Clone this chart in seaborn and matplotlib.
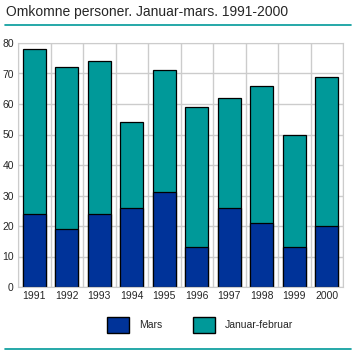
import numpy as np
import pandas as pd
import matplotlib
matplotlib.use('Agg')
import matplotlib.pyplot as plt
from matplotlib.patches import Patch
from matplotlib.lines import Line2D
import seaborn as sns

sns.set_style('white')
plt.rcParams['font.family'] = ['Liberation Sans', 'DejaVu Sans']

years = ['1991', '1992', '1993', '1994', '1995', '1996', '1997', '1998', '1999', '2000']
mars = [24, 19, 24, 26, 31, 13, 26, 21, 13, 20]
jan_feb = [54, 53, 50, 28, 40, 46, 36, 45, 37, 49]

df = pd.DataFrame({'year': years, 'mars': mars, 'jan_feb': jan_feb})
df['total'] = df['mars'] + df['jan_feb']

blue = '#003399'
teal = '#009999'

W, H = 352, 351
fig = plt.figure(figsize=(W / 100, H / 100), dpi=100)
ax = fig.add_axes([18 / W, 1 - 287 / H, (343 - 18) / W, (287 - 43) / H])

sns.barplot(data=df, x='year', y='total', color=teal, width=0.72,
            edgecolor='black', linewidth=0.9, saturation=1, ax=ax)
sns.barplot(data=df, x='year', y='mars', color=blue, width=0.72,
            edgecolor='black', linewidth=0.9, saturation=1, ax=ax)

ax.set_xlim(-0.5, len(years) - 0.5)
ax.set_ylim(0, 80)
ax.set_yticks(np.arange(0, 81, 10))
ax.set_xticks(np.arange(-0.5, len(years), 1), minor=True)
ax.grid(axis='y', color='#cccccc', linewidth=1)
ax.grid(axis='x', which='minor', color='#cccccc', linewidth=1)
ax.set_axisbelow(True)
for s in ax.spines.values():
    s.set_color('#cccccc')
ax.set_xlabel('')
ax.set_ylabel('')
ax.tick_params(axis='both', which='both', length=0, labelsize=7.5, pad=3)

# title and rules
fig.text(6 / W, 1 - 12 / H, 'Omkomne personer. Januar-mars. 1991-2000',
         fontsize=10, va='center', ha='left')
fig.add_artist(Line2D([5 / W, 351 / W], [1 - 25 / H, 1 - 25 / H],
                      transform=fig.transFigure, color=teal, linewidth=1.2))
fig.add_artist(Line2D([5 / W, 351 / W], [1 - 349 / H, 1 - 349 / H],
                      transform=fig.transFigure, color=teal, linewidth=1.2))

handles = [Patch(facecolor=blue, edgecolor='black', label='Mars'),
           Patch(facecolor=teal, edgecolor='black', label='Januar-februar')]
fig.legend(handles=handles, loc='center', bbox_to_anchor=(200 / W, 1 - 325 / H),
           ncol=2, frameon=False, fontsize=7.5, handlelength=2.1, handleheight=2.1,
           columnspacing=3, handletextpad=0.9)

fig.savefig('out.png', dpi=100)
